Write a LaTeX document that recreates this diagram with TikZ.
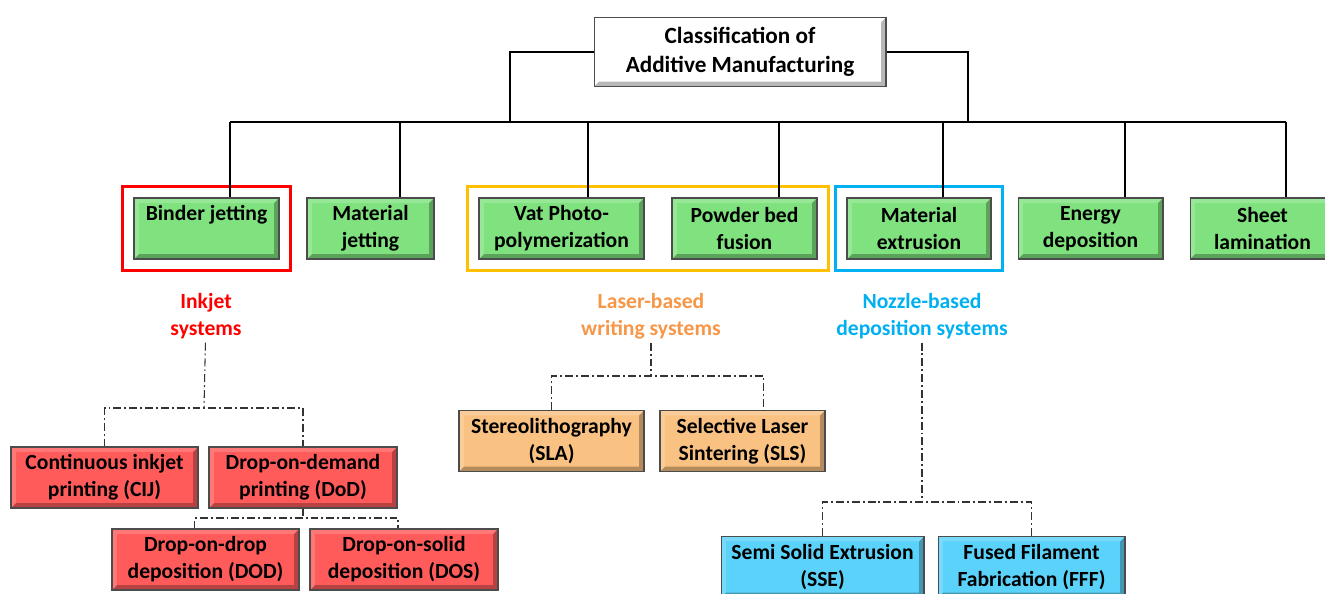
\documentclass[tikz,border=0pt]{standalone}
\usepackage{fontspec}
\setmainfont{Carlito}
\usepackage{tikz}
\usetikzlibrary{fit}

\definecolor{amgreen}{HTML}{7FE27F}
\definecolor{amred}{HTML}{FF5B5B}
\definecolor{amorange}{HTML}{FAC282}
\definecolor{amblue}{HTML}{5BD2FA}
\definecolor{lblorange}{HTML}{F79646}
\definecolor{lblblue}{HTML}{00B0F0}
\definecolor{frmgold}{HTML}{FFC000}

\newcommand\amfont{\fontsize{12.3}{15.3}\selectfont\bfseries}

\begin{document}
\begin{tikzpicture}[
    x=0.02cm, y=-0.02cm,
    bevelbox/.style={draw=black!70, line width=0.6pt, fill=#1, minimum height=1.22cm, inner sep=0pt, align=center, font=\amfont,
      path picture={
        \path (path picture bounding box.south west) coordinate (bSW)
              (path picture bounding box.south east) coordinate (bSE)
              (path picture bounding box.north east) coordinate (bNE)
              (path picture bounding box.north west) coordinate (bNW);
        \fill[black, opacity=0.28] (bSW) -- (bSE) -- (bNE) -- ([shift={(-2.8pt,-2.8pt)}]bNE) -- ([shift={(-2.8pt,2.8pt)}]bSE) -- ([shift={(2.8pt,2.8pt)}]bSW) -- cycle;
        \fill[white, opacity=0.18] (bSW) -- (bNW) -- (bNE) -- ([shift={(-2.8pt,-2.8pt)}]bNE) -- ([shift={(2.8pt,-2.8pt)}]bNW) -- ([shift={(2.8pt,2.8pt)}]bSW) -- cycle;
      }},
    group/.style={draw=#1, line width=1.3pt, inner sep=0.22cm},
    family/.style={text=#1, align=center, font=\amfont, inner sep=2pt},
    tree/.style={draw=black, line width=1pt},
    dd/.style={draw=black!80, line width=0.6pt, dash pattern=on 4.5pt off 1.7pt on 1.1pt off 1.7pt}
]
\useasboundingbox (0,0) rectangle (1325,593);

% root
\node[bevelbox=white, minimum width=5.84cm, minimum height=1.38cm, font=\fontsize{13.2}{16.4}\selectfont\bfseries] (root) at (740,52) {Classification of\\Additive Manufacturing};

% seven process categories
\node[bevelbox=amgreen, minimum width=2.9cm] (binder) at (206.5,228.5) {Binder jetting\\\phantom{g}};
\node[bevelbox=amgreen, minimum width=2.54cm] (matjet) at (370.5,228.5) {Material\\jetting};
\node[bevelbox=amgreen, minimum width=3.3cm] (vat) at (561.5,228.5) {Vat Photo-\\polymerization};
\node[bevelbox=amgreen, minimum width=2.9cm] (powder) at (744.5,228.5) {Powder bed\\fusion};
\node[bevelbox=amgreen, minimum width=2.88cm] (matext) at (919,228.5) {Material\\extrusion};
\node[bevelbox=amgreen, minimum width=2.9cm] (energy) at (1090.5,228.5) {Energy\\deposition};
\node[bevelbox=amgreen, minimum width=2.9cm] (sheet) at (1262.5,228.5) {Sheet\\lamination};

\node[group=red, fit=(binder)] (inkFrame) {};
\node[group=frmgold, fit=(vat) (powder)] (laserFrame) {};
\node[group=lblblue, fit=(matext)] (nozzleFrame) {};

% family labels
\node[family=red] (inkjet) at (206,316) {Inkjet\\systems};
\node[family=lblorange] (laser) at (651,316) {Laser-based\\writing systems};
\node[family=lblblue] (nozzle) at (922,316) {Nozzle-based\\deposition systems};

% printing techniques
\node[bevelbox=amred, minimum width=3.74cm] (cij) at (104.5,477.5) {Continuous inkjet\\printing (CIJ)};
\node[bevelbox=amred, minimum width=3.76cm] (dodp) at (303,477.5) {Drop-on-demand\\printing (DoD)};
\node[bevelbox=amred, minimum width=3.74cm] (dodd) at (205.5,559.5) {Drop-on-drop\\deposition (DOD)};
\node[bevelbox=amred, minimum width=3.76cm] (dos) at (404,559.5) {Drop-on-solid\\deposition (DOS)};
\node[bevelbox=amorange, minimum width=3.7cm] (sla) at (551.5,441) {Stereolithography\\(SLA)};
\node[bevelbox=amorange, minimum width=3.3cm] (sls) at (742.5,441) {Selective Laser\\Sintering (SLS)};
\node[bevelbox=amblue, minimum width=4.06cm] (sse) at (822.5,567) {Semi Solid Extrusion\\(SSE)};
\node[bevelbox=amblue, minimum width=3.74cm] (fff) at (1031.5,567) {Fused Filament\\Fabrication (FFF)};

% solid tree
\coordinate (busL) at (510,122);
\coordinate (busR) at (968,122);
\draw[tree] (root.west) -| (busL);
\draw[tree] (root.east) -| (busR);
\foreach \n/\x in {binder/230,matjet/400,vat/588,powder/779,matext/943,energy/1125,sheet/1286}{
  \coordinate (d\n) at (\x,122);
  \draw[tree] (d\n) -- (d\n |- \n.north);
}
\draw[tree] (dbinder) -- (dsheet);

% dash-dot branches
\coordinate (jInk) at (204,408);
\coordinate (jDod) at (303,518);
\coordinate (jLas) at (651,376);
\coordinate (jNoz) at (922,502);
\draw[dd] (inkjet) -- (jInk);
\draw[dd] (cij.north) |- (jInk) -| (dodp.north);
\draw[dd] (dodp.south) -- (jDod);
\draw[dd] ([xshift=-0.22cm]dodd.north) |- (jDod) -| ([xshift=-0.12cm]dos.north);
\draw[dd] (laser) -- (jLas);
\draw[dd] (sla.north) |- (jLas) -| ([xshift=0.42cm]sls.north);
\draw[dd] (nozzle) -- (jNoz);
\draw[dd] (sse.north) |- (jNoz) -| (fff.north);
\end{tikzpicture}
\end{document}
